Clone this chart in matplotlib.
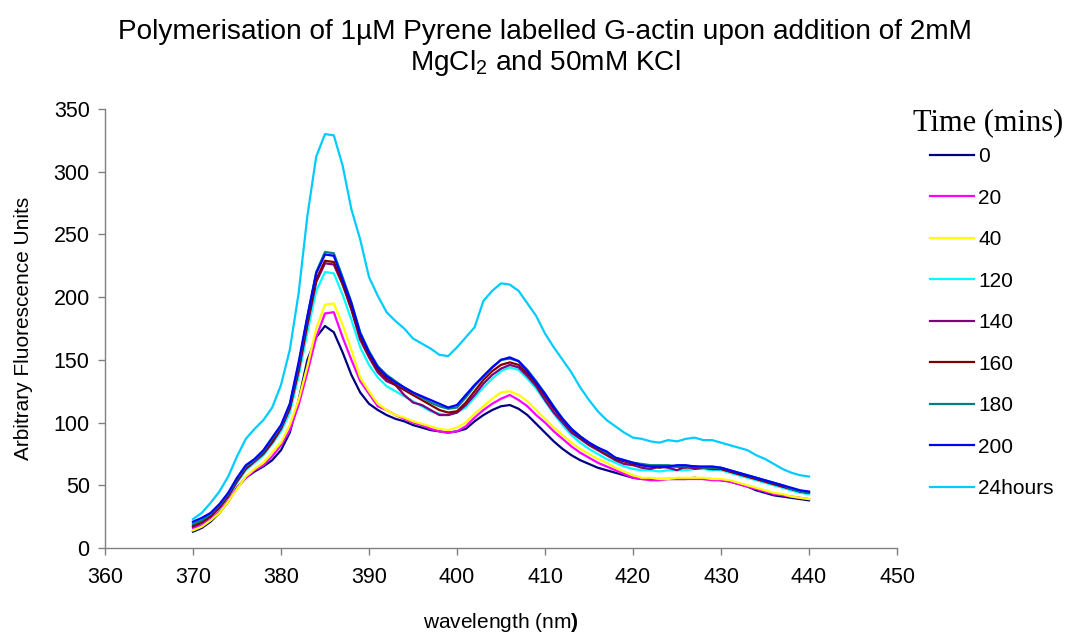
import matplotlib
matplotlib.use("Agg")
import matplotlib.pyplot as plt
import numpy as np

plt.rcParams['font.family'] = ['Liberation Sans', 'DejaVu Sans']
plt.rcParams['mathtext.fontset'] = 'custom'
plt.rcParams['mathtext.rm'] = 'Liberation Sans'
plt.rcParams['mathtext.bf'] = 'Liberation Sans:bold'

wavelength = list(range(370, 441))

t0 = [13, 16, 21, 28, 37, 48, 56, 61, 65, 70, 78, 92, 118, 150, 168, 177, 172, 156, 138, 124,
      115, 110, 106, 103, 101, 98, 96, 94, 93, 92, 93, 95, 101, 106, 110, 113, 114, 111, 106, 99,
      92, 85, 79, 74, 70, 67, 64, 62, 60, 58, 56, 55, 55, 55, 55, 55, 55, 56, 55, 55,
      54, 53, 51, 49, 46, 44, 42, 41, 40, 39, 38]
t20 = [16, 18, 23, 29, 38, 48, 56, 62, 66, 73, 82, 94, 114, 140, 168, 187, 188, 168, 150, 133,
       123, 113, 110, 106, 103, 100, 98, 95, 93, 92, 93, 97, 104, 110, 115, 119, 122, 118, 113, 106,
       100, 93, 87, 81, 76, 72, 68, 65, 62, 59, 56, 55, 54, 54, 55, 55, 55, 55, 55, 54,
       54, 53, 51, 49, 47, 45, 43, 42, 41, 40, 39]
t40 = [14, 17, 22, 28, 37, 47, 57, 63, 68, 76, 84, 98, 118, 145, 175, 194, 195, 178, 158, 136,
       125, 115, 110, 106, 104, 101, 99, 97, 95, 94, 96, 100, 107, 113, 119, 124, 125, 122, 117, 110,
       103, 96, 90, 84, 79, 75, 71, 68, 64, 61, 58, 56, 56, 55, 55, 56, 56, 56, 56, 55,
       55, 54, 52, 50, 48, 46, 44, 43, 41, 40, 39]
t120 = [20, 22, 26, 32, 41, 52, 62, 68, 74, 83, 93, 108, 137, 172, 205, 220, 219, 202, 182, 160,
        146, 136, 129, 125, 121, 117, 113, 109, 107, 106, 108, 112, 120, 128, 135, 141, 144, 142, 135, 127,
        117, 107, 98, 90, 84, 79, 75, 71, 68, 65, 63, 62, 62, 61, 62, 62, 62, 63, 63, 62,
        62, 60, 58, 56, 54, 52, 50, 48, 46, 44, 43]
t140 = [17, 20, 25, 32, 41, 53, 63, 69, 75, 84, 95, 111, 141, 178, 212, 227, 226, 210, 190, 166,
        152, 140, 133, 130, 122, 116, 114, 110, 106, 106, 108, 114, 122, 131, 138, 143, 146, 144, 137, 129,
        118, 108, 100, 92, 87, 82, 78, 74, 70, 67, 66, 64, 63, 65, 64, 62, 65, 63, 64, 63,
        63, 61, 59, 57, 55, 53, 51, 49, 47, 45, 44]
t160 = [18, 21, 26, 33, 42, 54, 64, 70, 76, 85, 96, 112, 143, 180, 214, 229, 228, 211, 191, 168,
        154, 142, 135, 130, 126, 122, 118, 114, 110, 108, 109, 116, 125, 134, 141, 146, 148, 146, 139, 131,
        121, 111, 102, 94, 88, 83, 79, 75, 71, 69, 67, 66, 65, 64, 65, 65, 64, 65, 64, 63,
        63, 61, 59, 57, 55, 53, 51, 49, 47, 45, 44]
t180 = [19, 22, 27, 34, 43, 55, 65, 70, 77, 87, 97, 114, 146, 184, 220, 236, 235, 216, 196, 172,
        157, 145, 138, 133, 128, 124, 120, 116, 113, 111, 112, 120, 129, 137, 144, 150, 151, 149, 142, 133,
        123, 113, 103, 95, 89, 84, 80, 76, 72, 70, 68, 67, 66, 66, 66, 65, 65, 65, 64, 64,
        64, 62, 60, 58, 56, 54, 52, 50, 47, 45, 44]
t200 = [21, 24, 28, 35, 44, 56, 66, 71, 78, 88, 98, 115, 148, 185, 219, 234, 233, 214, 195, 171,
        156, 144, 137, 132, 128, 124, 121, 118, 115, 112, 114, 122, 130, 137, 144, 150, 152, 149, 141, 132,
        123, 112, 103, 95, 89, 84, 80, 77, 72, 70, 68, 66, 65, 65, 65, 66, 66, 65, 65, 65,
        64, 62, 60, 58, 56, 54, 52, 50, 48, 46, 45]
t24h = [23, 28, 36, 45, 57, 73, 87, 95, 102, 112, 130, 158, 203, 265, 312, 330, 329, 305, 270, 246,
        216, 201, 188, 181, 175, 167, 163, 159, 154, 153, 160, 168, 176, 197, 205, 211, 210, 205, 195, 185,
        171, 160, 150, 140, 128, 118, 109, 102, 97, 92, 88, 87, 85, 84, 86, 85, 87, 88, 86, 86,
        84, 82, 80, 78, 74, 71, 67, 63, 60, 58, 57]

labels = ['0', '20', '40', '120', '140', '160', '180', '200', '24hours']
colors = ['#000080', '#FF00FF', '#FFFF00', '#00FFFF', '#800080', '#800000', '#008080', '#0000FF', '#00CCFF']
series = [t0, t20, t40, t120, t140, t160, t180, t200, t24h]

W, H = 1074, 636
fig = plt.figure(figsize=(W / 100, H / 100), dpi=100)
ax = fig.add_axes([105 / W, 1 - 548 / H, (897 - 105) / W, (548 - 109) / H])

for s, c, lab in zip(series, colors, labels):
    ax.plot(wavelength, s, color=c, lw=1.6, label=lab)

ax.set_xlim(360, 450)
ax.set_ylim(0, 350)
ax.set_xticks(np.arange(360, 451, 10))
ax.set_yticks(np.arange(0, 351, 50))
for side in ['top', 'right']:
    ax.spines[side].set_visible(False)
for side in ['left', 'bottom']:
    ax.spines[side].set_color('#808080')
    ax.spines[side].set_linewidth(1.0)
ax.tick_params(direction='out', length=5, width=1, color='#808080', labelsize=15.5)
ax.tick_params(axis='x', pad=9)
ax.tick_params(axis='y', pad=6)

ax.set_ylabel('Arbitrary Fluorescence Units', fontsize=15, labelpad=15)
ax.set_xlabel(r'wavelength (nm$\mathbf{)}$', fontsize=15, labelpad=16)

fig.text(545 / W, 1 - 32 / H,
         'Polymerisation of 1µM Pyrene labelled G-actin upon addition of 2mM',
         ha='center', va='center', fontsize=20.2)
fig.text(545 / W, 1 - 63 / H, r'MgCl$_\mathregular{2}$ and 50mM KCl',
         ha='center', va='center', fontsize=20.2)

fig.text(913 / W, 1 - 123 / H, 'Time (mins)', ha='left', va='center',
         fontsize=22, family='Liberation Serif')
leg = fig.legend(loc='upper left', bbox_to_anchor=(924 / W, 1 - 141 / H), frameon=False,
                 fontsize=15, handlelength=2.1, handletextpad=0.2, labelspacing=1.08,
                 borderaxespad=0, borderpad=0.3)

fig.savefig('out.png', dpi=100)
